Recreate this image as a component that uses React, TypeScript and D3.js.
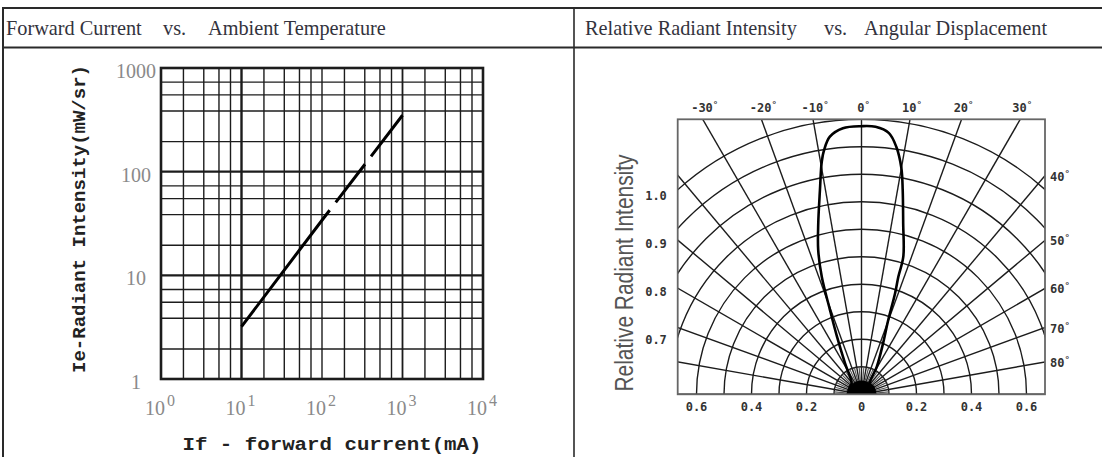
import React from 'react';
import * as d3 from 'd3';

// left panel: Ie vs If, log-log
const currentDecades = [1, 10, 100, 1000, 10000];
const currentExponents = ['0', '1', '2', '3', '4'];
const currentMinor = [1.9, 3.4, 5.25, 7.3];
const intensityDecades = [1, 10, 100, 1000];
const intensityLabels = ['1', '10', '100', '1000'];
const intensityMinor = [1.95, 3.85, 5.5, 7.3];
const ieCurrent = [10, 100, 1000];
const ieIntensity = [3.2, 34, 350];

// right panel: radiation pattern (polar)
const ringValues = [0.1, 0.2, 0.3, 0.4, 0.5, 0.6, 0.7, 0.8, 0.9, 1.0];
const spokeAngles = [-90, -80, -70, -60, -50, -40, -30, -20, -10, 0, 10, 20, 30, 40, 50, 60, 70, 80, 90];
const fineSpokeAngles = [-85, -75, -65, -55, -45, -35, -25, -15, -5, 5, 15, 25, 35, 45, 55, 65, 75, 85];
const topAngleLabels = [-30, -20, -10, 0, 10, 20, 30];
const sideAngleLabels = [40, 50, 60, 70, 80];
const leftScaleLabels = [1.0, 0.9, 0.8, 0.7];
const bottomScaleLabels = [-0.6, -0.4, -0.2, 0, 0.2, 0.4, 0.6];
const patternAngle = [-90, -60, -42, -28, -23, -20.5, -18.7, -16.7, -14.2, -11.5, -9.7, -8.7, -7, -4, 0, 3, 6, 8, 10, 11.4, 13.7, 16.9, 17.4, 18.4, 19.8, 23, 29, 38, 60, 90];
const patternIntensity = [0.05, 0.05, 0.054, 0.128, 0.228, 0.327, 0.45, 0.548, 0.641, 0.758, 0.858, 0.899, 0.944, 0.97, 0.975, 0.974, 0.955, 0.909, 0.835, 0.758, 0.64, 0.523, 0.448, 0.387, 0.287, 0.2, 0.115, 0.05, 0.05, 0.05];

const W = 1102;
const H = 457;
const gridColor = '#1c1c1c';
const labelGray = '#8a8a8a';

const rad = (deg: number) => (deg * Math.PI) / 180;

const LeftPanel = () => {
  const x = d3.scaleLog().domain([1, 10000]).range([161, 483]);
  const y = d3.scaleLog().domain([1, 1000]).range([379, 68]);

  const xMinor = currentDecades.slice(0, -1).flatMap((d) => currentMinor.map((m) => d * m));
  const yMinor = intensityDecades.slice(0, -1).flatMap((d) => intensityMinor.map((m) => d * m));

  const line = d3
    .line<number>()
    .x((_, i) => x(ieCurrent[i]))
    .y((d) => y(d));

  return (
    <g>
      {xMinor.map((v) => (
        <line key={'xm' + v} x1={x(v)} x2={x(v)} y1={y(1)} y2={y(1000)} stroke={gridColor} strokeWidth={1.4} />
      ))}
      {yMinor.map((v) => (
        <line key={'ym' + v} x1={x(1)} x2={x(10000)} y1={y(v)} y2={y(v)} stroke={gridColor} strokeWidth={1.4} />
      ))}
      {currentDecades.map((v) => (
        <line key={'xd' + v} x1={x(v)} x2={x(v)} y1={y(1)} y2={y(1000)} stroke={gridColor}
          strokeWidth={v === 10 ? 2.4 : v === 1000 ? 1.8 : 1.4} />
      ))}
      {intensityDecades.map((v) => (
        <line key={'yd' + v} x1={x(1)} x2={x(10000)} y1={y(v)} y2={y(v)} stroke={gridColor}
          strokeWidth={v === 10 || v === 100 ? 2.2 : 1.4} />
      ))}
      <rect x={x(1)} y={y(1000)} width={x(10000) - x(1)} height={y(1) - y(1000)} fill="none" stroke={gridColor} strokeWidth={2.6} />

      <path d={line(ieIntensity) || ''} fill="none" stroke="#000" strokeWidth={3} strokeDasharray="146 10 48 10 60" />

      {intensityDecades.map((v, i) => (
        <text key={'yl' + v} x={136} y={y(v) + 3} textAnchor="middle" dominantBaseline="central"
          fontFamily="'Liberation Serif', serif" fontSize={20} fill={labelGray}>
          {intensityLabels[i]}
        </text>
      ))}
      {currentDecades.map((v, i) => (
        <text key={'xl' + v} x={x(v) - 1} y={415} textAnchor="middle"
          fontFamily="'Liberation Serif', serif" fontSize={20} fill={labelGray}>
          10
          <tspan dx={2} dy={-9} fontSize={16}>{currentExponents[i]}</tspan>
        </text>
      ))}

      <text x={332} y={450} textAnchor="middle" fontFamily="'Liberation Mono', monospace" fontWeight="bold"
        fontSize={18} fill="#222" textLength={299} lengthAdjust="spacingAndGlyphs">
        If - forward current(mA)
      </text>
      <text transform="translate(85,219) rotate(-90)" textAnchor="middle" fontFamily="'Liberation Mono', monospace"
        fontWeight="bold" fontSize={18} fill="#222" textLength={308} lengthAdjust="spacingAndGlyphs">
        Ie-Radiant Intensity(mW/sr)
      </text>
    </g>
  );
};

const RightPanel = () => {
  const cx = 861.5;
  const cy = 394.3;
  const frame = { x0: 677.7, x1: 1045, y0: 119.3, y1: 394.3 };
  const r = d3.scaleLinear().domain([0, 1]).range([0, 275]);
  const leftY = d3.scaleLinear().domain([1.0, 0.7]).range([196, 340]);
  const fmt = d3.format('.1f');
  const half = frame.x1 - cx;

  const pattern = d3
    .lineRadial<number>()
    .angle((_, i) => rad(patternAngle[i]))
    .radius((d) => r(d))
    .curve(d3.curveCatmullRom.alpha(0.5));

  const tinyFont = "'DejaVu Sans Mono', monospace";

  return (
    <g>
      <defs>
        <clipPath id="polarClip">
          <rect x={frame.x0} y={frame.y0} width={frame.x1 - frame.x0} height={frame.y1 - frame.y0} />
        </clipPath>
      </defs>
      <g clipPath="url(#polarClip)">
        {ringValues.map((v) => (
          <circle key={'ring' + v} cx={cx} cy={cy} r={r(v)} fill="none" stroke={gridColor} strokeWidth={1.4} />
        ))}
        {spokeAngles.map((a) => (
          <line key={'sp' + a} x1={cx} y1={cy} x2={cx + 400 * Math.sin(rad(a))} y2={cy - 400 * Math.cos(rad(a))}
            stroke={gridColor} strokeWidth={1.4} />
        ))}
        {fineSpokeAngles.map((a) => (
          <line key={'fs' + a} x1={cx} y1={cy} x2={cx + r(0.1) * Math.sin(rad(a))} y2={cy - r(0.1) * Math.cos(rad(a))}
            stroke="#555" strokeWidth={1.1} />
        ))}
        <path d={pattern(patternIntensity) || ''} transform={`translate(${cx},${cy})`} fill="none" stroke="#000"
          strokeWidth={2.6} strokeLinejoin="round" />
        <path d={d3.arc()({ innerRadius: 0, outerRadius: r(0.05), startAngle: rad(-90), endAngle: rad(90) }) || ''}
          transform={`translate(${cx},${cy})`} fill="#000" />
      </g>
      <rect x={frame.x0} y={frame.y0} width={frame.x1 - frame.x0} height={frame.y1 - frame.y0} fill="none"
        stroke="#666" strokeWidth={1.8} />

      {topAngleLabels.map((a) => (
        <text key={'ta' + a} x={cx + r(1) * Math.tan(rad(a)) + 2} y={112} textAnchor="middle"
          fontFamily={tinyFont} fontSize={12} fontWeight="bold" fill="#333">
          {a}
          <tspan dy={-4} fontSize={9}>°</tspan>
        </text>
      ))}
      {sideAngleLabels.map((a) => (
        <text key={'sa' + a} x={frame.x1 + 5} y={cy - half / Math.tan(rad(a)) + 5}
          fontFamily={tinyFont} fontSize={12} fontWeight="bold" fill="#333">
          {a}
          <tspan dy={-4} fontSize={9}>°</tspan>
        </text>
      ))}
      {leftScaleLabels.map((v) => (
        <text key={'ls' + v} x={656} y={leftY(v) + 4} textAnchor="middle"
          fontFamily={tinyFont} fontSize={12} fontWeight="bold" fill="#333">
          {fmt(v)}
        </text>
      ))}
      {bottomScaleLabels.map((v) => (
        <text key={'bs' + v} x={cx + Math.sign(v) * r(Math.abs(v))} y={411} textAnchor="middle"
          fontFamily={tinyFont} fontSize={12} fontWeight="bold" fill="#333">
          {v === 0 ? '0' : fmt(Math.abs(v))}
        </text>
      ))}

      <text transform="translate(633,273) rotate(-90)" textAnchor="middle" fontFamily="'Liberation Sans', sans-serif"
        fontSize={26} fill="#555" textLength={237} lengthAdjust="spacingAndGlyphs">
        Relative Radiant Intensity
      </text>
    </g>
  );
};

const Headers = () => {
  const font = "'Liberation Serif', 'Times New Roman', serif";
  const color = '#33333d';
  return (
    <g fontFamily={font} fontSize={20.3} fill={color}>
      <text x={6} y={34.5}>Forward Current</text>
      <text x={163} y={34.5}>vs.</text>
      <text x={208} y={34.5}>Ambient Temperature</text>
      <text x={585} y={34.5}>Relative Radiant Intensity</text>
      <text x={824} y={34.5}>vs.</text>
      <text x={864} y={34.5}>Angular Displacement</text>
    </g>
  );
};

export default function App() {
  return (
    <div style={{ position: 'absolute', left: 0, top: 0 }}>
      <svg width={W} height={H} style={{ display: 'block', background: '#fff' }}>
        <rect width={W} height={H} fill="#fff" />
        <line x1={2} x2={W} y1={8} y2={8} stroke="#2a2a2a" strokeWidth={2} />
        <line x1={2} x2={W} y1={47.5} y2={47.5} stroke="#2a2a2a" strokeWidth={2} />
        <line x1={3} x2={3} y1={7} y2={H} stroke="#2a2a2a" strokeWidth={2} />
        <line x1={574} x2={574} y1={7} y2={H} stroke="#2a2a2a" strokeWidth={1.6} />
        <Headers />
        <LeftPanel />
        <RightPanel />
      </svg>
    </div>
  );
}
